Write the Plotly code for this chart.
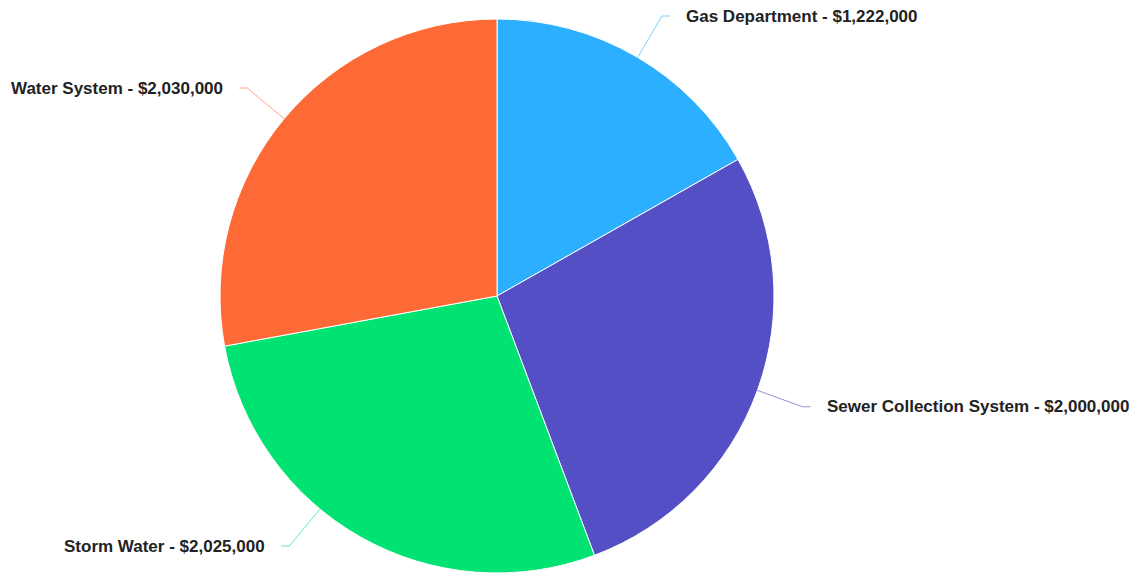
import math
import plotly.graph_objects as go

categories = ["Gas Department", "Sewer Collection System", "Storm Water", "Water System"]
values = [1222000, 2000000, 2025000, 2030000]
colors = ["#2caffe", "#544fc5", "#00e272", "#fe6a35"]

W, H = 1140, 576
cx, cy, r = 497, 296, 277
label_r = 325
y_min, y_max = 16, 546
text_gap = 22

fig = go.Figure(go.Pie(
    labels=categories,
    values=values,
    sort=False,
    direction="clockwise",
    rotation=0,
    marker=dict(colors=colors, line=dict(color="#ffffff", width=1)),
    textinfo="none",
    hoverinfo="label+value",
    showlegend=False,
    domain=dict(x=[(cx - r) / W, (cx + r) / W], y=[1 - (cy + r) / H, 1 - (cy - r) / H]),
))

def px(x):
    return x / W

def py(y):
    return 1 - y / H

total = sum(values)
start = 0.0
shapes = []
annotations = []
for name, v, col in zip(categories, values, colors):
    span = 360.0 * v / total
    mid = math.radians(start + span / 2)
    start += span
    s, c = math.sin(mid), math.cos(mid)
    ly = cy - label_r * c
    ly = min(max(ly, y_min), y_max)
    side = 1 if s >= 0 else -1
    lx = cx + side * math.sqrt(max(label_r ** 2 - (ly - cy) ** 2, 0))
    # connector touches slice edge in the direction of the label anchor
    ang = math.atan2(lx - cx, cy - ly)
    ex, ey = cx + r * math.sin(ang), cy - r * math.cos(ang)
    shapes.append(dict(type="line", xref="paper", yref="paper",
                       x0=px(ex), y0=py(ey), x1=px(lx), y1=py(ly),
                       line=dict(color=col, width=1), opacity=0.6))
    shapes.append(dict(type="line", xref="paper", yref="paper",
                       x0=px(lx), y0=py(ly), x1=px(lx + side * 8), y1=py(ly),
                       line=dict(color=col, width=1), opacity=0.6))
    annotations.append(dict(
        x=px(lx + side * text_gap), y=py(ly), xref="paper", yref="paper",
        text=f"<b>{name} - ${v:,}</b>", showarrow=False,
        xanchor="left" if side > 0 else "right", yanchor="middle",
        font=dict(family="Liberation Sans, Arial, sans-serif", size=17, color="#222222"),
    ))

fig.update_layout(
    width=W, height=H, autosize=False,
    margin=dict(l=0, r=0, t=0, b=0),
    paper_bgcolor="#ffffff", plot_bgcolor="#ffffff",
    shapes=shapes, annotations=annotations,
)

fig.write_html("out.html", config={"displayModeBar": False},
               post_script="document.body.style.margin='0';")
